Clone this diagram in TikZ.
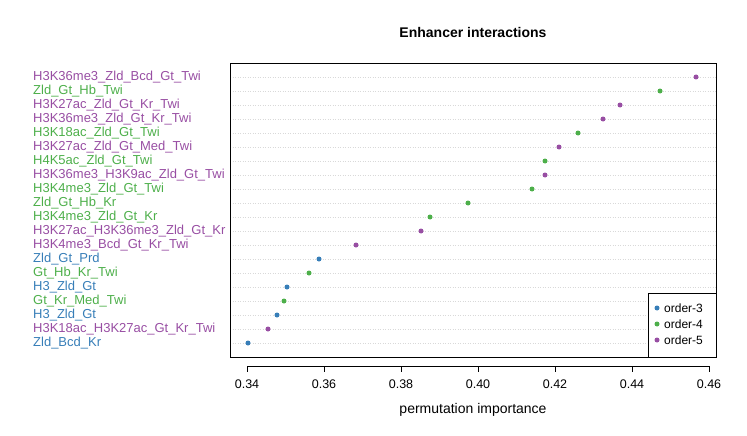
\documentclass[tikz,border=0pt]{standalone}
\usepackage{fontspec}
\setmainfont{Liberation Sans}
\usetikzlibrary{positioning}
\definecolor{ordblue}{RGB}{55,126,184}
\definecolor{ordgreen}{RGB}{77,175,74}
\definecolor{ordpurple}{RGB}{152,78,163}
\begin{document}
\begin{tikzpicture}[x=1pt,y=-1pt,
  lab/.style={anchor=west,inner sep=0pt,font=\fontsize{13}{15}\selectfont},
  pt/.style={circle,fill=#1,inner sep=0pt,minimum size=5pt},
  grid/.style={draw=black!15,dotted,line width=0.5pt},
  tick/.style={font=\fontsize{12.5}{15}\selectfont,inner sep=0pt}]
\useasboundingbox (0,0) rectangle (747,436);
% title and axis label
\node[font=\bfseries\fontsize{14}{17}\selectfont] (title) at (473,32) {Enhancer interactions};
\node[font=\fontsize{14}{17}\selectfont] (xlab) at (473,410) {permutation importance};
% rows: label / x position / colour
\foreach \txt/\px/\col [count=\i] in {
  H3K36me3\_Zld\_Bcd\_Gt\_Twi/696/ordpurple,
  Zld\_Gt\_Hb\_Twi/660/ordgreen,
  H3K27ac\_Zld\_Gt\_Kr\_Twi/620/ordpurple,
  H3K36me3\_Zld\_Gt\_Kr\_Twi/603/ordpurple,
  H3K18ac\_Zld\_Gt\_Twi/578/ordgreen,
  H3K27ac\_Zld\_Gt\_Med\_Twi/559/ordpurple,
  H4K5ac\_Zld\_Gt\_Twi/545/ordgreen,
  H3K36me3\_H3K9ac\_Zld\_Gt\_Twi/545/ordpurple,
  H3K4me3\_Zld\_Gt\_Twi/532/ordgreen,
  Zld\_Gt\_Hb\_Kr/468/ordgreen,
  H3K4me3\_Zld\_Gt\_Kr/430/ordgreen,
  H3K27ac\_H3K36me3\_Zld\_Gt\_Kr/421/ordpurple,
  H3K4me3\_Bcd\_Gt\_Kr\_Twi/356/ordpurple,
  Zld\_Gt\_Prd/319/ordblue,
  Gt\_Hb\_Kr\_Twi/309/ordgreen,
  H3\_Zld\_Gt/287/ordblue,
  Gt\_Kr\_Med\_Twi/284/ordgreen,
  H3\_Zld\_Gt/277/ordblue,
  H3K18ac\_H3K27ac\_Gt\_Kr\_Twi/268/ordpurple,
  Zld\_Bcd\_Kr/248/ordblue}{
  \pgfmathsetmacro\py{63+14*\i}
  \draw[grid] (230,\py) -- (716,\py);
  \node[lab,text=\col] (lab\i) at (33,\py) {\txt};
  \node[pt=\col] (dot\i) at (\px,\py) {};
}
% frame
\draw[line width=0.6pt] (230,63) rectangle (716,357);
% x axis
\draw[line width=0.6pt] (247,366) -- (709,366);
\foreach \v [count=\k from 0] in {0.34,0.36,0.38,0.40,0.42,0.44,0.46}{
  \draw[line width=0.6pt] (247+77*\k,366) -- (247+77*\k,372);
  \node[tick] (tk\k) at (247+77*\k,384) {\v};
}
% legend
\draw[fill=white,line width=0.6pt] (648,293) rectangle (716,357);
\foreach \lg/\col [count=\j] in {order-3/ordblue,order-4/ordgreen,order-5/ordpurple}{
  \node[pt=\col] (lgdot\j) at (657,292+16*\j) {};
  \node[anchor=west,inner sep=0pt,font=\fontsize{12}{14}\selectfont] (lgtxt\j) at (664,292+16*\j) {\lg};
}
\end{tikzpicture}
\end{document}
